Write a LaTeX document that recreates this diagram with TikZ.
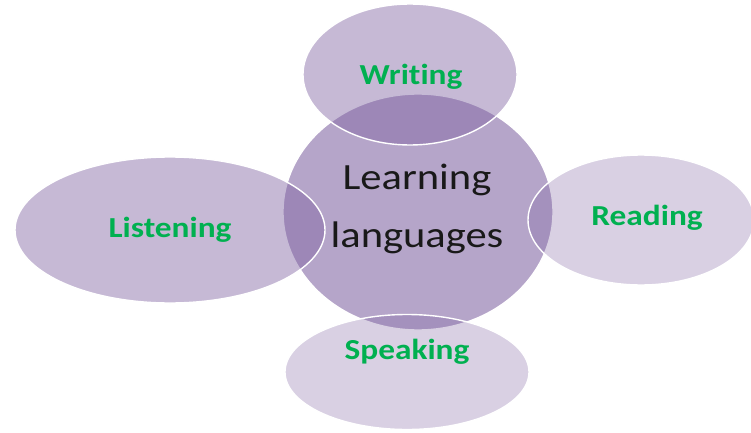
\documentclass[tikz,border=0pt]{standalone}
\usepackage{fontspec}
\setmainfont{Carlito}[Ligatures={NoCommon}]
\usetikzlibrary{shapes.geometric}
\definecolor{accpurple}{HTML}{8064A2}
\definecolor{accgreen}{HTML}{00B050}
\tikzset{
  bubble/.style={ellipse, draw=white, line width=1.4pt, fill=accpurple, inner sep=0pt},
  strongbubble/.style={bubble, fill opacity=0.45},
  lightbubble/.style={bubble, fill opacity=0.30},
  centerbubble/.style={ellipse, draw=white, line width=1.4pt, fill=accpurple!58!white, inner sep=0pt},
  skilltext/.style={text=accgreen, font=\fontsize{29}{32}\selectfont\bfseries, inner sep=0pt},
  maintext/.style={text=black!90, align=center, inner sep=0pt, font=\fontsize{37}{58}\selectfont}
}
\begin{document}
\begin{tikzpicture}[x=1pt,y=1pt]
\useasboundingbox (0,0) rectangle (751,432);
% centre
\node[centerbubble, minimum width=270pt, minimum height=236pt] (centre) at (418,220) {};
% satellites
\node[strongbubble, minimum width=214pt, minimum height=141pt] (wr) at (410,357.5) {};
\node[strongbubble, minimum width=310pt, minimum height=146pt] (li) at (170,202) {};
\node[lightbubble, minimum width=226pt, minimum height=130pt] (re) at (641,212) {};
\node[lightbubble, minimum width=244pt, minimum height=115pt] (sp) at (407,60) {};
% texts
\node[skilltext] (twr) at (411,355) {\scalebox{1.15}[1]{Writing}};
\node[skilltext] (tli) at (170,202) {\scalebox{1.15}[1]{Listening}};
\node[skilltext] (tre) at (647,214) {\scalebox{1.15}[1]{Reading}};
\node[skilltext] (tsp) at (407,80) {\scalebox{1.15}[1]{Speaking}};
\node[maintext] (tc) at (417,225) {\scalebox{1.15}[1]{\begin{tabular}{@{}c@{}}Learning\\languages\end{tabular}}};
\end{tikzpicture}
\end{document}
